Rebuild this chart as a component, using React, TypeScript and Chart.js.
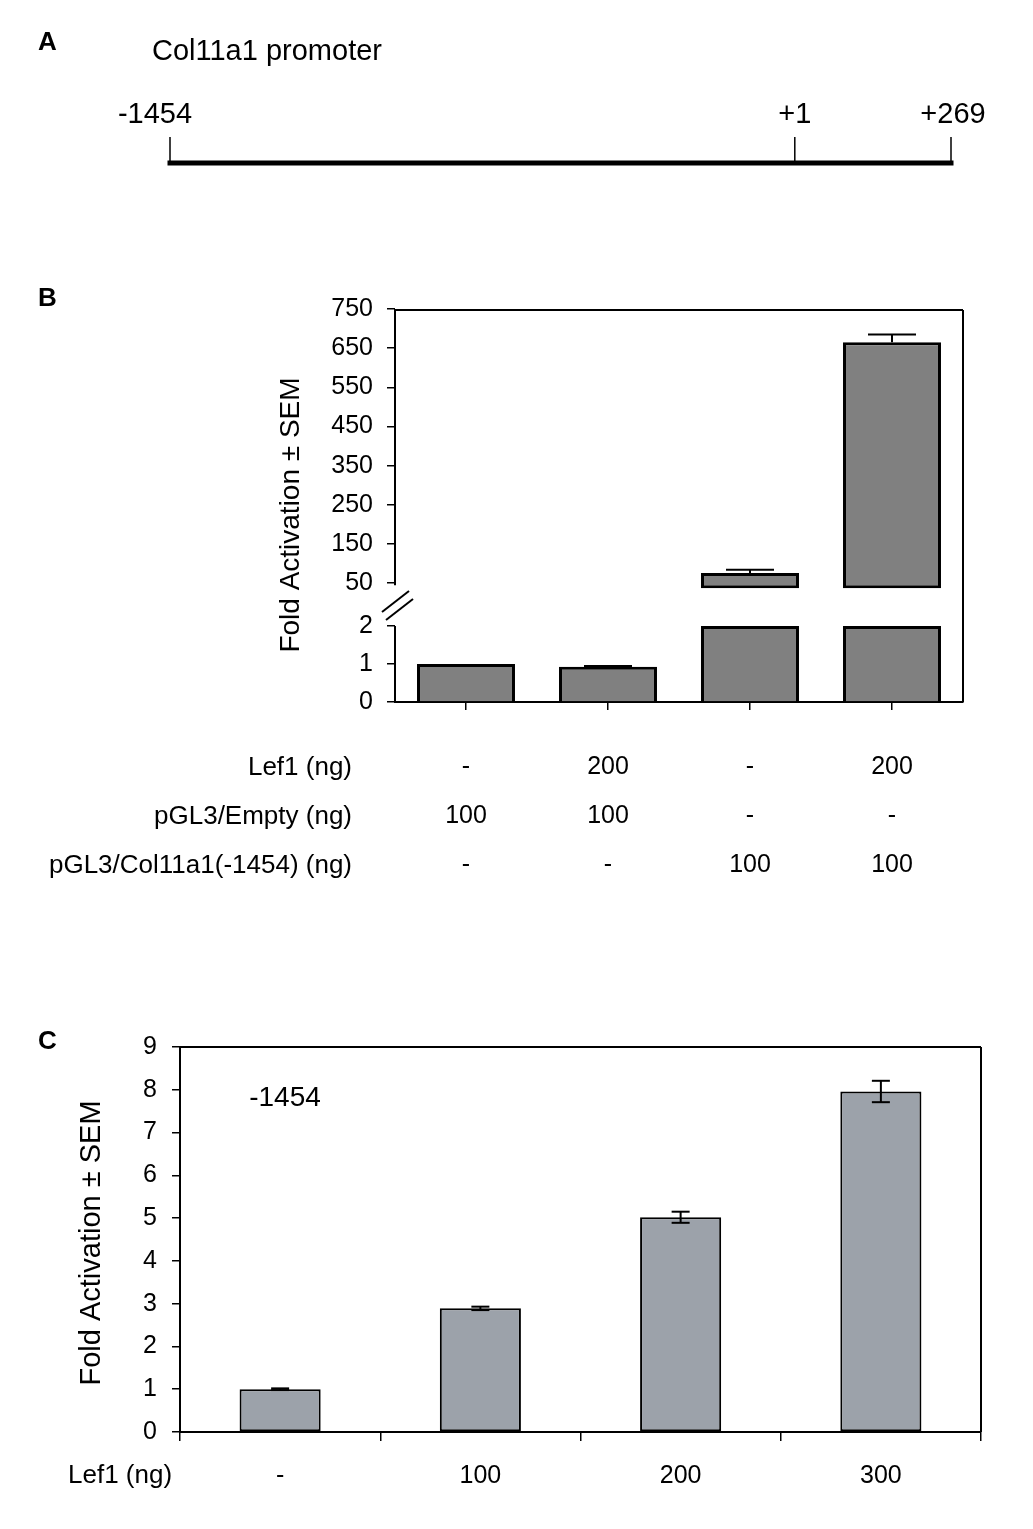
import { useEffect, useRef } from 'react';
import { Chart, LinearScale, registerables } from 'chart.js';

// ---------------- Panel A data ----------------
const promoterTitle = 'Col11a1 promoter';
const promoterLabels = ['-1454', '+1', '+269'];
const promoterPositions = [-1454, 1, 269];

// ---------------- Panel B data ----------------
const bConditions = ['Empty', 'Empty + Lef1', 'Col11a1', 'Col11a1 + Lef1'];
const bRowLabels = ['Lef1 (ng)', 'pGL3/Empty (ng)', 'pGL3/Col11a1(-1454) (ng)'];
const bLef1 = ['-', '200', '-', '200'];
const bEmpty = ['100', '100', '-', '-'];
const bCol11a1 = ['-', '-', '100', '100'];
const bValues = [1, 0.93, 76, 665];
const bErrors = [0, 0.02, 8, 20];
const bTickValues = [0, 1, 2, 50, 150, 250, 350, 450, 550, 650, 750];

// ---------------- Panel C data ----------------
const cRowLabel = 'Lef1 (ng)';
const cLef1 = ['-', '100', '200', '300'];
const cValues = [1.0, 2.89, 5.02, 7.96];
const cErrors = [0.02, 0.04, 0.13, 0.25];
const cAnnotation = '-1454';

const yTitle = 'Fold Activation \u00B1 SEM';

// ---------------- layout / style constants ----------------
const W = 1033;
const H = 1529;
const FONT = '"Liberation Sans", Arial, sans-serif';

// schematic (not-to-scale) axis for panel A
const A_PIVOT = promoterPositions[1];
const A_SPLIT = 0.8;

// broken axis for panel B
const B_LOW_MAX = 2;
const B_HIGH_MIN = 35;
const B_LOW_FRAC = 76 / 393;
const B_HIGH_FRAC = 113 / 393;
const B_UPPER_BASE = 37;

class SchematicScale extends LinearScale {
  static id = 'schematic';
  getPixelForValue(value: number) {
    if (value == null || isNaN(value)) return NaN;
    const min = (this as any).min;
    const max = (this as any).max;
    const d = value <= A_PIVOT
      ? A_SPLIT * (value - min) / (A_PIVOT - min)
      : A_SPLIT + (1 - A_SPLIT) * (value - A_PIVOT) / (max - A_PIVOT);
    return (this as any).getPixelForDecimal(d);
  }
  getValueForPixel(pixel: number) {
    const min = (this as any).min;
    const max = (this as any).max;
    const d = (this as any).getDecimalForPixel(pixel);
    return d <= A_SPLIT
      ? min + (d / A_SPLIT) * (A_PIVOT - min)
      : A_PIVOT + ((d - A_SPLIT) / (1 - A_SPLIT)) * (max - A_PIVOT);
  }
}

class BrokenScale extends LinearScale {
  static id = 'broken';
  getPixelForValue(value: number) {
    if (value == null || isNaN(value)) return NaN;
    const min = (this as any).min;
    const max = (this as any).max;
    const d = value <= B_LOW_MAX
      ? ((value - min) / (B_LOW_MAX - min)) * B_LOW_FRAC
      : B_HIGH_FRAC + ((value - B_HIGH_MIN) / (max - B_HIGH_MIN)) * (1 - B_HIGH_FRAC);
    return (this as any).getPixelForDecimal(d);
  }
  getValueForPixel(pixel: number) {
    const min = (this as any).min;
    const max = (this as any).max;
    const d = (this as any).getDecimalForPixel(pixel);
    if (d <= B_LOW_FRAC) return min + (d / B_LOW_FRAC) * (B_LOW_MAX - min);
    return B_HIGH_MIN + ((d - B_HIGH_FRAC) / (1 - B_HIGH_FRAC)) * (max - B_HIGH_MIN);
  }
}

Chart.register(...registerables, SchematicScale as any, BrokenScale as any);
Chart.defaults.font.family = FONT;
Chart.defaults.color = '#000';

function drawVText(ctx: CanvasRenderingContext2D, text: string, x: number, y: number, font: string) {
  ctx.save();
  ctx.translate(x, y);
  ctx.rotate(-Math.PI / 2);
  ctx.font = font;
  ctx.fillStyle = '#000';
  ctx.textAlign = 'center';
  ctx.textBaseline = 'middle';
  ctx.fillText(text, 0, 0);
  ctx.restore();
}

function drawText(ctx: CanvasRenderingContext2D, text: string, x: number, y: number, font: string, align: CanvasTextAlign) {
  ctx.save();
  ctx.font = font;
  ctx.fillStyle = '#000';
  ctx.textAlign = align;
  ctx.textBaseline = 'middle';
  ctx.fillText(text, x, y);
  ctx.restore();
}

function line(ctx: CanvasRenderingContext2D, x1: number, y1: number, x2: number, y2: number, w: number) {
  ctx.save();
  ctx.strokeStyle = '#000';
  ctx.lineWidth = w;
  ctx.beginPath();
  ctx.moveTo(x1, y1);
  ctx.lineTo(x2, y2);
  ctx.stroke();
  ctx.restore();
}

// ---------------- Panel A config ----------------
function configA(): any {
  const first = promoterPositions[0];
  const last = promoterPositions[promoterPositions.length - 1];
  const labelShift = [-15, 0, 2];
  const datasets: any[] = [
    {
      data: [{ x: first, y: 0 }, { x: last, y: 0 }],
      borderColor: '#000',
      borderWidth: 5,
      borderCapStyle: 'square',
      pointRadius: 0,
      clip: false,
    },
    ...promoterPositions.map((p) => ({
      data: [{ x: p, y: 0 }, { x: p, y: 1 }],
      borderColor: '#000',
      borderWidth: 1.5,
      pointRadius: 0,
      clip: false,
    })),
  ];
  return {
    type: 'line',
    data: { datasets },
    options: {
      animation: false,
      responsive: false,
      devicePixelRatio: 1,
      events: [],
      layout: { padding: { left: 170, right: W - 951, top: 137, bottom: H - 163 } },
      plugins: { legend: { display: false }, tooltip: { enabled: false } },
      scales: {
        x: { type: 'schematic', min: first, max: last, display: false },
        y: { type: 'linear', min: 0, max: 1, display: false },
      },
    },
    plugins: [
      {
        id: 'panelA',
        afterDraw(chart: any) {
          const ctx = chart.ctx;
          const xs = chart.scales.x;
          const ys = chart.scales.y;
          drawText(ctx, 'A', 38, 43, `bold 26px ${FONT}`, 'left');
          drawText(ctx, promoterTitle, 152, 52, `29px ${FONT}`, 'left');
          promoterPositions.forEach((p, i) => {
            drawText(ctx, promoterLabels[i], xs.getPixelForValue(p) + labelShift[i], ys.getPixelForValue(1) - 22, `29px ${FONT}`, 'center');
          });
        },
      },
    ],
  };
}

// ---------------- Panel B config ----------------
function configB(): any {
  const barCommon = {
    backgroundColor: '#808080',
    borderColor: '#000',
    borderWidth: 3,
    grouped: false,
    barPercentage: 0.69,
    categoryPercentage: 1,
  };
  return {
    type: 'bar',
    data: {
      labels: bConditions,
      datasets: [
        { ...barCommon, data: bValues.map((v) => [0, Math.min(v, B_LOW_MAX)]), borderSkipped: 'start' },
        { ...barCommon, data: bValues.map((v) => (v > B_LOW_MAX ? [B_UPPER_BASE, v] : null)), borderSkipped: false },
      ],
    },
    options: {
      animation: false,
      responsive: false,
      devicePixelRatio: 1,
      events: [],
      layout: { padding: { left: 395 - 120, right: W - 963, top: 309, bottom: H - 702 - 200 } },
      plugins: { legend: { display: false }, tooltip: { enabled: false } },
      scales: {
        x: {
          type: 'category',
          offset: true,
          grid: { display: true, offset: false, drawOnChartArea: false, drawTicks: true, tickLength: 8, color: '#000', lineWidth: 1.5 },
          border: { display: true, color: '#000', width: 2 },
          ticks: {
            autoSkip: false,
            maxRotation: 0,
            padding: 33,
            color: '#000',
            font: { size: 25, family: FONT, lineHeight: 1.96 },
            callback: (_v: any, i: number) => [bLef1[i], bEmpty[i], bCol11a1[i]],
          },
          afterFit: (s: any) => { s.height = 200; },
        },
        y: {
          type: 'broken',
          min: 0,
          max: 750,
          afterBuildTicks: (axis: any) => { axis.ticks = bTickValues.map((v) => ({ value: v })); },
          grid: { display: true, drawOnChartArea: false, drawTicks: true, tickLength: 8, color: '#000', lineWidth: 1.5 },
          border: { display: false },
          ticks: { padding: 14, color: '#000', font: { size: 25, family: FONT }, callback: (v: any) => String(v) },
          afterFit: (s: any) => { s.width = 120; },
        },
      },
    },
    plugins: [
      {
        id: 'panelB',
        afterDraw(chart: any) {
          const ctx = chart.ctx;
          const ys = chart.scales.y;
          const area = chart.chartArea;
          const ax = area.left;
          // segmented left axis
          line(ctx, ax, ys.getPixelForValue(750), ax, ys.getPixelForValue(50) + 2, 2);
          line(ctx, ax, ys.getPixelForValue(B_LOW_MAX), ax, ys.getPixelForValue(0), 2);
          // break marks
          const mid = (ys.getPixelForValue(50) + ys.getPixelForValue(B_LOW_MAX)) / 2;
          line(ctx, ax - 13, mid + 7.5, ax + 14, mid - 13.5, 2);
          line(ctx, ax - 9, mid + 15.5, ax + 18, mid - 5.5, 2);
          // frame top + right
          line(ctx, ax, area.top + 1, area.right, area.top + 1, 2);
          line(ctx, area.right, area.top + 1, area.right, area.bottom, 2);
          // error bars (upward)
          bValues.forEach((v, i) => {
            const e = bErrors[i];
            if (!e) return;
            const ds = v > B_LOW_MAX ? 1 : 0;
            const el = chart.getDatasetMeta(ds).data[i];
            const y0 = ys.getPixelForValue(v);
            const y1 = ys.getPixelForValue(v + e);
            line(ctx, el.x, y0, el.x, y1, 2);
            line(ctx, el.x - 24, y1, el.x + 24, y1, 2);
          });
          // row headers
          const firstRow = area.bottom + 8 + 33 + 24.5;
          bRowLabels.forEach((t, i) => {
            drawText(ctx, t, 352, firstRow + i * 49, `26px ${FONT}`, 'right');
          });
          drawVText(ctx, yTitle, 291, 515, `28px ${FONT}`);
          drawText(ctx, 'B', 38, 299, `bold 26px ${FONT}`, 'left');
        },
      },
    ],
  };
}

// ---------------- Panel C config ----------------
function configC(): any {
  return {
    type: 'bar',
    data: {
      labels: cLef1,
      datasets: [
        {
          data: cValues,
          backgroundColor: '#9ca2aa',
          borderColor: '#000',
          borderWidth: 2,
          borderSkipped: false,
          barPercentage: 0.405,
          categoryPercentage: 1,
        },
      ],
    },
    options: {
      animation: false,
      responsive: false,
      devicePixelRatio: 1,
      events: [],
      layout: { padding: { left: 180 - 100, right: W - 981, top: 1047, bottom: H - 1432 - 90 } },
      plugins: { legend: { display: false }, tooltip: { enabled: false } },
      scales: {
        x: {
          type: 'category',
          offset: true,
          grid: { display: true, offset: true, drawOnChartArea: false, drawTicks: true, tickLength: 9, color: '#000', lineWidth: 1.5 },
          border: { display: true, color: '#000', width: 2 },
          ticks: { padding: 20, color: '#000', font: { size: 25, family: FONT }, maxRotation: 0, autoSkip: false },
          afterFit: (s: any) => { s.height = 90; },
        },
        y: {
          type: 'linear',
          min: 0,
          max: 9,
          grid: { display: true, drawOnChartArea: false, drawTicks: true, tickLength: 8, color: '#000', lineWidth: 1.5 },
          border: { display: true, color: '#000', width: 2 },
          ticks: { stepSize: 1, padding: 15, color: '#000', font: { size: 25, family: FONT } },
          afterFit: (s: any) => { s.width = 100; },
        },
      },
    },
    plugins: [
      {
        id: 'panelC',
        afterDraw(chart: any) {
          const ctx = chart.ctx;
          const ys = chart.scales.y;
          const area = chart.chartArea;
          line(ctx, area.left, area.top, area.right, area.top, 2);
          line(ctx, area.right, area.top, area.right, area.bottom, 2);
          const meta = chart.getDatasetMeta(0);
          cValues.forEach((v, i) => {
            const e = cErrors[i];
            const x = meta.data[i].x;
            const yTop = ys.getPixelForValue(v + e);
            const yBot = ys.getPixelForValue(v - e);
            line(ctx, x, yTop, x, yBot, 2);
            line(ctx, x - 9, yTop, x + 9, yTop, 2);
            line(ctx, x - 9, yBot, x + 9, yBot, 2);
          });
          drawText(ctx, cRowLabel, 68, area.bottom + 44, `26px ${FONT}`, 'left');
          drawText(ctx, cAnnotation, 285, 1098, `28px ${FONT}`, 'center');
          drawVText(ctx, yTitle, 92, 1243, `29px ${FONT}`);
          drawText(ctx, 'C', 38, 1042, `bold 26px ${FONT}`, 'left');
        },
      },
    ],
  };
}

export default function App() {
  const aRef = useRef<HTMLCanvasElement>(null);
  const bRef = useRef<HTMLCanvasElement>(null);
  const cRef = useRef<HTMLCanvasElement>(null);

  useEffect(() => {
    const charts = [
      new Chart(aRef.current as HTMLCanvasElement, configA()),
      new Chart(bRef.current as HTMLCanvasElement, configB()),
      new Chart(cRef.current as HTMLCanvasElement, configC()),
    ];
    return () => charts.forEach((c) => c.destroy());
  }, []);

  const layer: any = { position: 'absolute', left: 0, top: 0, width: W, height: H };
  return (
    <div style={{ position: 'absolute', left: 0, top: 0, width: W, height: H, overflow: 'hidden', background: '#fff' }}>
      <canvas ref={aRef} width={W} height={H} style={layer} />
      <canvas ref={bRef} width={W} height={H} style={layer} />
      <canvas ref={cRef} width={W} height={H} style={layer} />
    </div>
  );
}
